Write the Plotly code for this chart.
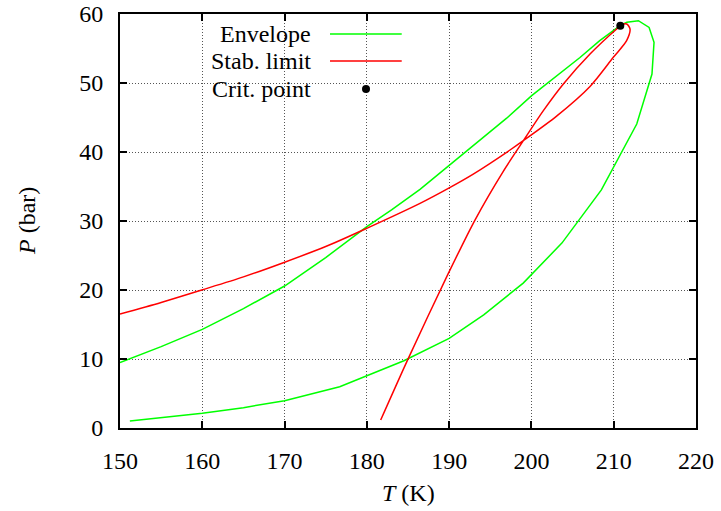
import plotly.graph_objects as go

# Envelope (phase envelope), T in K, P in bar
env_T = [151.2, 155.0, 160.0, 165.0, 170.0, 176.7, 180.0, 184.5, 190.0, 194.2, 199.0,
         203.7, 208.5, 212.8, 214.65, 214.9, 214.3, 213.0, 211.6, 210.8, 209.95, 208.3,
         205.9, 203.06, 200.03, 196.99, 192.93, 188.9, 186.46, 183.0, 180.0, 175.0,
         170.0, 165.0, 160.0, 155.0, 150.0]
env_P = [1.01, 1.5, 2.13, 2.95, 3.96, 5.99, 7.54, 9.75, 13.0, 16.4, 21.0,
         26.8, 34.5, 44.06, 51.3, 55.9, 58.06, 59.03, 58.79, 58.35, 57.6, 56.14,
         53.7, 51.06, 48.17, 44.9, 40.92, 37.06, 34.59, 31.6, 29.18, 24.7,
         20.58, 17.3, 14.3, 11.8, 9.47]

# Stability limit
stab_T = [150.0, 155.0, 159.93, 165.0, 169.85, 175.0, 179.98, 186.46, 189.9, 192.93,
          197.4, 199.01, 203.06, 207.12, 209.95, 211.57, 211.98, 211.57, 211.0, 210.36,
          207.12, 203.88, 201.45, 199.0, 196.58, 193.14, 189.9, 185.04, 181.68]
stab_P = [16.52, 18.2, 20.0, 21.9, 23.96, 26.3, 28.94, 32.56, 34.73, 36.8,
          40.29, 41.64, 45.2, 49.5, 53.72, 56.14, 57.83, 58.55, 58.45, 57.83,
          54.2, 49.86, 45.99, 41.6, 37.2, 30.14, 22.4, 10.1, 1.16]

# Critical point
crit_T = [210.8]
crit_P = [58.3]

x_ticks = [150, 160, 170, 180, 190, 200, 210, 220]
y_ticks = [0, 10, 20, 30, 40, 50, 60]

legend_labels = ["Envelope", "Stab. limit", "Crit. point"]

FONT = "'Liberation Serif', 'DejaVu Serif', serif"
GREEN = "#00ff00"
RED = "#ff0000"

fig = go.Figure()
fig.add_trace(go.Scatter(x=env_T, y=env_P, mode="lines",
                         line=dict(color=GREEN, width=1.5), name=legend_labels[0],
                         showlegend=False))
fig.add_trace(go.Scatter(x=stab_T, y=stab_P, mode="lines",
                         line=dict(color=RED, width=1.5, shape="spline", smoothing=0.8),
                         name=legend_labels[1], showlegend=False))
fig.add_trace(go.Scatter(x=crit_T, y=crit_P, mode="markers",
                         marker=dict(color="black", size=8), name=legend_labels[2],
                         showlegend=False))

axis_common = dict(
    showline=True, linecolor="black", linewidth=2, mirror="allticks",
    ticks="inside", ticklen=7, tickwidth=1.5, tickcolor="black",
    showgrid=True, gridcolor="#555555", gridwidth=1, griddash="1px,2px",
    zeroline=False, automargin=False, ticklabeloverflow="allow",
    tickfont=dict(family=FONT, size=24, color="black"),
)

fig.update_xaxes(range=[150, 220], tickvals=x_ticks, ticklabelstandoff=10, **axis_common)
fig.update_yaxes(range=[0, 60], tickvals=y_ticks, ticklabelstandoff=10, **axis_common)

# legend box (opaque, hides grid)
shapes = [
    dict(type="rect", xref="paper", yref="paper", x0=0, x1=0.517, y0=0.787, y1=1,
         fillcolor="white", line=dict(width=0), layer="between"),
    dict(type="line", xref="paper", yref="paper", x0=0.3646, x1=0.4891,
         y0=0.9517, y1=0.9517, line=dict(color=GREEN, width=1.5)),
    dict(type="line", xref="paper", yref="paper", x0=0.3646, x1=0.4891,
         y0=0.8865, y1=0.8865, line=dict(color=RED, width=1.5)),
    dict(type="circle", xref="paper", yref="paper", x0=0.4271 - 4 / 576, x1=0.4271 + 4 / 576,
         y0=0.8188 - 4 / 414, y1=0.8188 + 4 / 414, fillcolor="black", line=dict(width=0)),
]

annotations = []
for lab, yy in zip(legend_labels, [0.9517, 0.8865, 0.8188]):
    annotations.append(dict(text=lab, xref="paper", yref="paper", x=0.3356, y=yy,
                            xanchor="right", yanchor="middle", showarrow=False,
                            font=dict(family=FONT, size=24, color="black")))
annotations.append(dict(text="<i>T</i> (K)", xref="paper", yref="paper", x=0.5, y=-0.157,
                        xanchor="center", yanchor="middle", showarrow=False,
                        font=dict(family=FONT, size=24, color="black")))
annotations.append(dict(text="<i>P</i> (bar)", xref="paper", x=(27 - 120) / 576,
                        xanchor="center", yref="paper", y=0.5, yanchor="middle",
                        showarrow=False, textangle=-90,
                        font=dict(family=FONT, size=24, color="black")))

fig.update_layout(
    width=721, height=511,
    margin=dict(l=120, r=25, t=14, b=83, autoexpand=False),
    paper_bgcolor="white", plot_bgcolor="white",
    shapes=shapes, annotations=annotations, showlegend=False,
    font=dict(family=FONT),
)

# remove the default 8px page margin so the 721x511 figure fills the window
fig.write_html("out.html",
               config={"displayModeBar": False},
               post_script="document.body.style.margin='0';"
                           "document.body.style.overflow='hidden';")
